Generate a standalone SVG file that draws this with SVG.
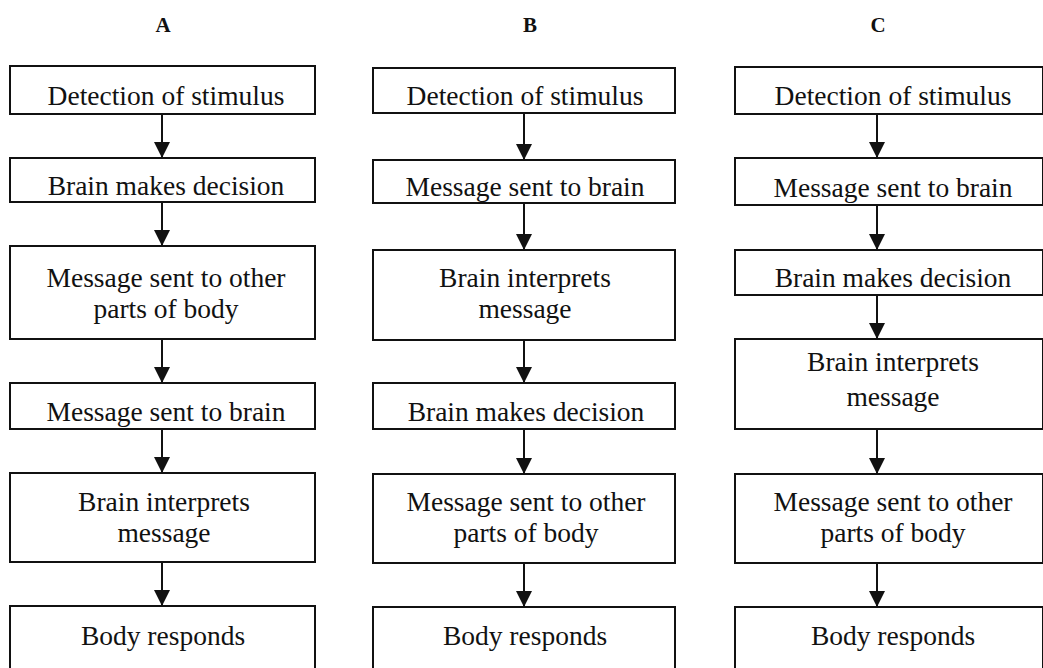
<svg xmlns="http://www.w3.org/2000/svg" width="1043" height="668" viewBox="0 0 1043 668">
<style>
.box{fill:#fff;stroke:#111;stroke-width:2}
.t{font-family:"Liberation Serif","Times New Roman",serif;font-size:27.5px;fill:#111;text-anchor:middle}
.h{font-family:"Liberation Serif","Times New Roman",serif;font-size:21px;font-weight:bold;fill:#111;text-anchor:middle}
.c{stroke:#111;stroke-width:2;fill:none;marker-end:url(#ah)}
</style>
<defs>
<marker id="ah" markerUnits="userSpaceOnUse" markerWidth="16" markerHeight="16" refX="16" refY="8" orient="auto">
<path d="M0,0 L16,8 L0,16 z" fill="#111"/>
</marker>
</defs>
<rect width="1043" height="668" fill="#fff"/>
<g id="headers">
<text class="h" x="163" y="32">A</text>
<text class="h" x="530" y="32">B</text>
<text class="h" x="878" y="32">C</text>
</g>
<g id="connectors">
<line class="c" x1="162" y1="114" x2="162" y2="158"/>
<line class="c" x1="162" y1="202" x2="162" y2="246"/>
<line class="c" x1="162" y1="339" x2="162" y2="383"/>
<line class="c" x1="162" y1="429" x2="162" y2="473"/>
<line class="c" x1="162" y1="562" x2="162" y2="606"/>
<line class="c" x1="524" y1="113" x2="524" y2="160"/>
<line class="c" x1="524" y1="203" x2="524" y2="250"/>
<line class="c" x1="524" y1="340" x2="524" y2="383"/>
<line class="c" x1="524" y1="429" x2="524" y2="474"/>
<line class="c" x1="524" y1="563" x2="524" y2="607"/>
<line class="c" x1="877" y1="114" x2="877" y2="158"/>
<line class="c" x1="877" y1="205" x2="877" y2="250"/>
<line class="c" x1="877" y1="295" x2="877" y2="339"/>
<line class="c" x1="877" y1="429" x2="877" y2="474"/>
<line class="c" x1="877" y1="563" x2="877" y2="607"/>
</g>
<g id="a1"><rect class="box" x="10" y="66" width="305" height="48"/><text class="t" x="166" y="105">Detection of stimulus</text></g>
<g id="a2"><rect class="box" x="10" y="158" width="305" height="44"/><text class="t" x="166" y="195">Brain makes decision</text></g>
<g id="a3"><rect class="box" x="10" y="246" width="305" height="93"/><text class="t" x="166" y="287">Message sent to other</text><text class="t" x="166" y="318">parts of body</text></g>
<g id="a4"><rect class="box" x="10" y="383" width="305" height="46"/><text class="t" x="166" y="421">Message sent to brain</text></g>
<g id="a5"><rect class="box" x="10" y="473" width="305" height="89"/><text class="t" x="164" y="511">Brain interprets</text><text class="t" x="164" y="542">message</text></g>
<g id="a6"><rect class="box" x="10" y="606" width="305" height="80"/><text class="t" x="163" y="645">Body responds</text></g>
<g id="b1"><rect class="box" x="373" y="68" width="302" height="45"/><text class="t" x="525" y="105">Detection of stimulus</text></g>
<g id="b2"><rect class="box" x="373" y="160" width="302" height="43"/><text class="t" x="525" y="196">Message sent to brain</text></g>
<g id="b3"><rect class="box" x="373" y="250" width="302" height="90"/><text class="t" x="525" y="287">Brain interprets</text><text class="t" x="525" y="318">message</text></g>
<g id="b4"><rect class="box" x="373" y="383" width="302" height="46"/><text class="t" x="526" y="421">Brain makes decision</text></g>
<g id="b5"><rect class="box" x="373" y="474" width="302" height="89"/><text class="t" x="526" y="511">Message sent to other</text><text class="t" x="526" y="542">parts of body</text></g>
<g id="b6"><rect class="box" x="373" y="607" width="302" height="80"/><text class="t" x="525" y="645">Body responds</text></g>
<g id="c1"><rect class="box" x="735" y="67" width="308" height="47"/><text class="t" x="893" y="105">Detection of stimulus</text></g>
<g id="c2"><rect class="box" x="735" y="158" width="308" height="47"/><text class="t" x="893" y="197">Message sent to brain</text></g>
<g id="c3"><rect class="box" x="735" y="250" width="308" height="45"/><text class="t" x="893" y="287">Brain makes decision</text></g>
<g id="c4"><rect class="box" x="735" y="339" width="308" height="90"/><text class="t" x="893" y="371">Brain interprets</text><text class="t" x="893" y="406">message</text></g>
<g id="c5"><rect class="box" x="735" y="474" width="308" height="89"/><text class="t" x="893" y="511">Message sent to other</text><text class="t" x="893" y="542">parts of body</text></g>
<g id="c6"><rect class="box" x="735" y="607" width="308" height="80"/><text class="t" x="893" y="645">Body responds</text></g>
</svg>
